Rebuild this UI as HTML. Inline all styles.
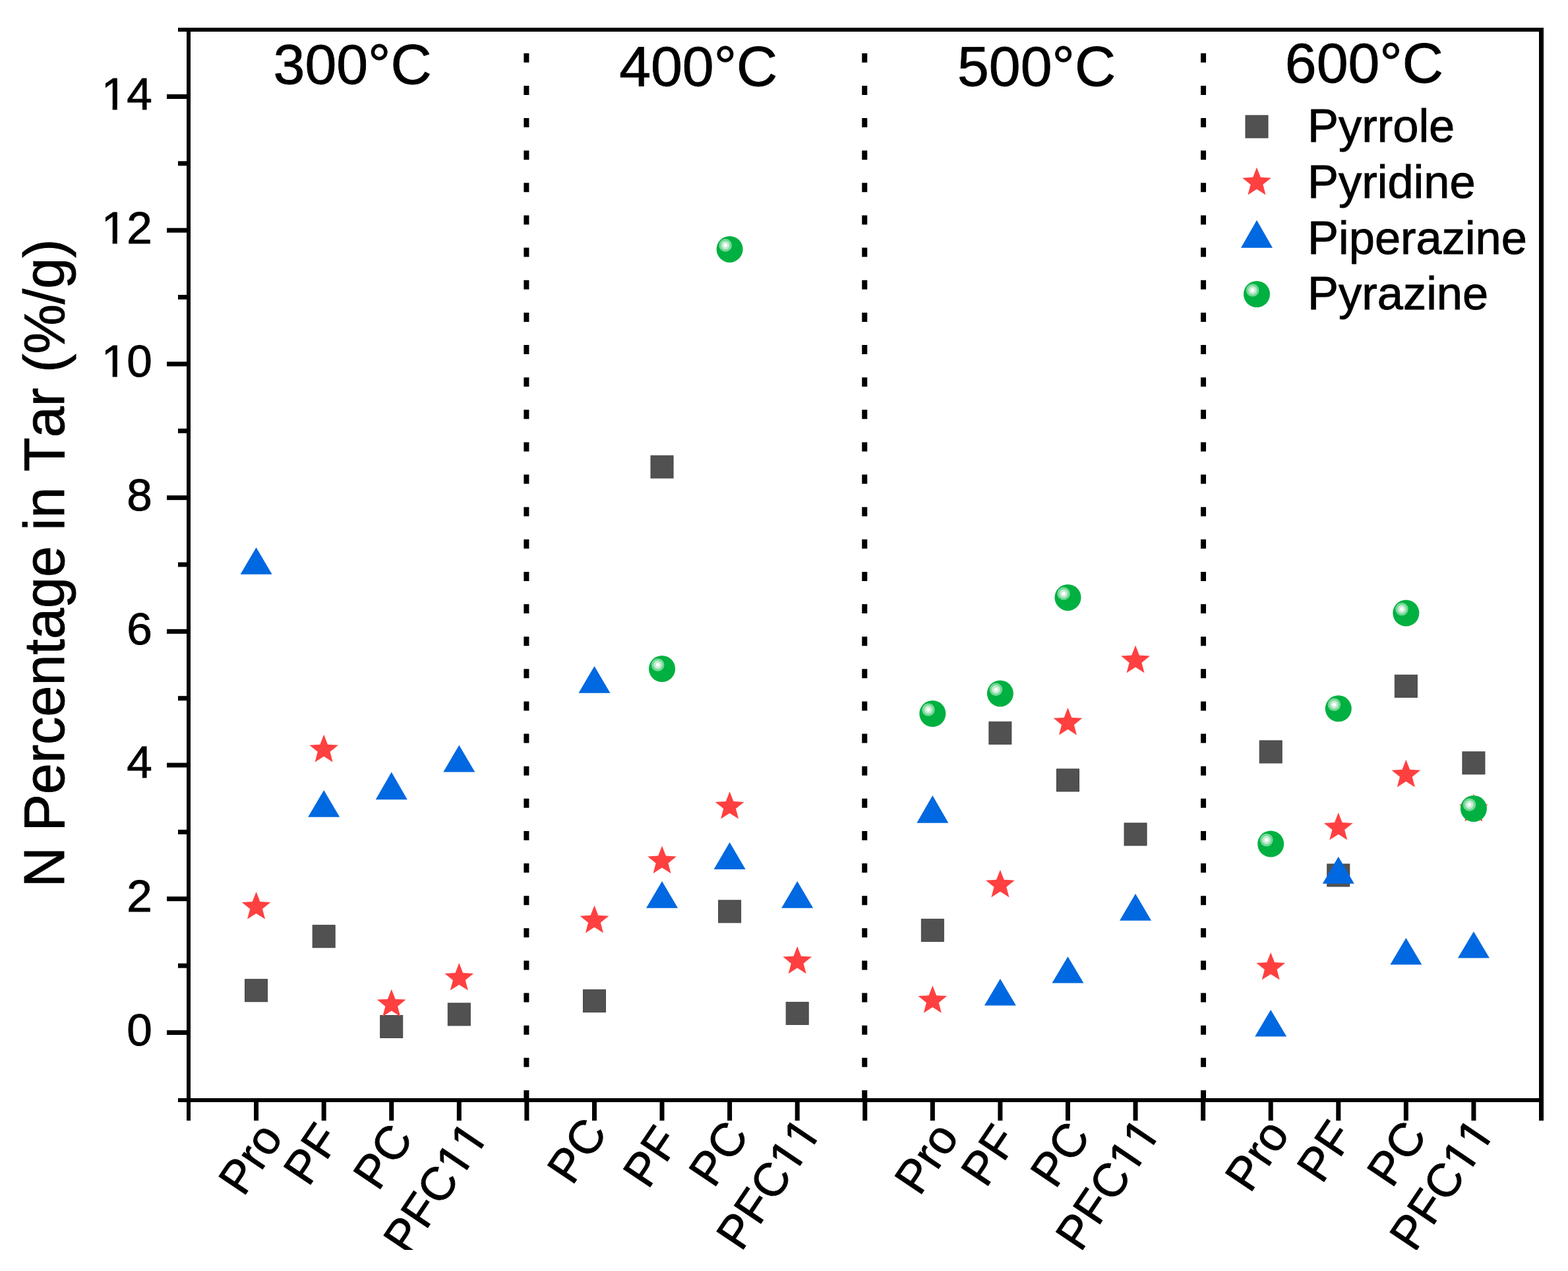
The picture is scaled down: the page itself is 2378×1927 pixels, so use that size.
<!DOCTYPE html>
<html><head><meta charset="utf-8"><title>N Percentage in Tar</title>
<style>html,body{margin:0;padding:0;background:#fff;overflow:hidden;} svg{display:block;} text{font-kerning:none;stroke:#000;stroke-width:0.9px;}</style>
</head><body>
<svg width="2378" height="1927" viewBox="0 0 2378 1927" font-family="'Liberation Sans', Arial, sans-serif" fill="#000"><defs><clipPath id="clipb"><rect x="0" y="0" width="2378" height="1895"/></clipPath><clipPath id="c1"><path d="M-5000,-5000H5000V5000H-5000ZM-74.04,2.37L-60.10,2.37L-60.10,-6.26L-74.04,-6.26ZM-53.09,2.37L-39.52,2.37L-39.52,-6.26L-53.09,-6.26Z" clip-rule="evenodd"/></clipPath><clipPath id="c2"><path d="M-5000,-5000H5000V5000H-5000ZM-74.04,2.37L-60.10,2.37L-60.10,-6.26L-74.04,-6.26ZM-53.09,2.37L-39.52,2.37L-39.52,-6.26L-53.09,-6.26Z" clip-rule="evenodd"/></clipPath><clipPath id="c3"><path d="M-5000,-5000H5000V5000H-5000ZM-74.04,2.37L-60.10,2.37L-60.10,-6.26L-74.04,-6.26ZM-53.09,2.37L-39.52,2.37L-39.52,-6.26L-53.09,-6.26Z" clip-rule="evenodd"/></clipPath><clipPath id="c4"><path d="M-5000,-5000H5000V5000H-5000ZM144.30,2.41L158.51,2.41L158.51,-6.38L144.30,-6.38ZM165.64,2.41L179.46,2.41L179.46,-6.38L165.64,-6.38ZM183.57,2.41L197.77,2.41L197.77,-6.38L183.57,-6.38ZM204.91,2.41L218.73,2.41L218.73,-6.38L204.91,-6.38Z" clip-rule="evenodd"/></clipPath><clipPath id="c5"><path d="M-5000,-5000H5000V5000H-5000ZM144.30,2.41L158.51,2.41L158.51,-6.38L144.30,-6.38ZM165.64,2.41L179.46,2.41L179.46,-6.38L165.64,-6.38ZM183.57,2.41L197.77,2.41L197.77,-6.38L183.57,-6.38ZM204.91,2.41L218.73,2.41L218.73,-6.38L204.91,-6.38Z" clip-rule="evenodd"/></clipPath><clipPath id="c6"><path d="M-5000,-5000H5000V5000H-5000ZM144.30,2.41L158.51,2.41L158.51,-6.38L144.30,-6.38ZM165.64,2.41L179.46,2.41L179.46,-6.38L165.64,-6.38ZM183.57,2.41L197.77,2.41L197.77,-6.38L183.57,-6.38ZM204.91,2.41L218.73,2.41L218.73,-6.38L204.91,-6.38Z" clip-rule="evenodd"/></clipPath><clipPath id="c7"><path d="M-5000,-5000H5000V5000H-5000ZM144.30,2.41L158.51,2.41L158.51,-6.38L144.30,-6.38ZM165.64,2.41L179.46,2.41L179.46,-6.38L165.64,-6.38ZM183.57,2.41L197.77,2.41L197.77,-6.38L183.57,-6.38ZM204.91,2.41L218.73,2.41L218.73,-6.38L204.91,-6.38Z" clip-rule="evenodd"/></clipPath></defs><rect x="283" y="42" width="6" height="1657" fill="#000"/>
<rect x="2334" y="42" width="7" height="1657" fill="#000"/>
<rect x="270" y="42" width="2071" height="6" fill="#000"/>
<rect x="270" y="1665" width="2071" height="6" fill="#000"/>
<rect x="253" y="1562.00" width="30" height="7" fill="#000"/>
<rect x="270" y="1460.64" width="13" height="7" fill="#000"/>
<rect x="253" y="1359.28" width="30" height="7" fill="#000"/>
<rect x="270" y="1257.92" width="13" height="7" fill="#000"/>
<rect x="253" y="1156.56" width="30" height="7" fill="#000"/>
<rect x="270" y="1055.20" width="13" height="7" fill="#000"/>
<rect x="253" y="953.84" width="30" height="7" fill="#000"/>
<rect x="270" y="852.48" width="13" height="7" fill="#000"/>
<rect x="253" y="751.12" width="30" height="7" fill="#000"/>
<rect x="270" y="649.76" width="13" height="7" fill="#000"/>
<rect x="253" y="548.40" width="30" height="7" fill="#000"/>
<rect x="270" y="447.04" width="13" height="7" fill="#000"/>
<rect x="253" y="345.68" width="30" height="7" fill="#000"/>
<rect x="270" y="244.32" width="13" height="7" fill="#000"/>
<rect x="253" y="142.96" width="30" height="7" fill="#000"/>
<rect x="385.07" y="1671" width="7" height="28" fill="#000"/>
<rect x="487.65" y="1671" width="7" height="28" fill="#000"/>
<rect x="590.23" y="1671" width="7" height="28" fill="#000"/>
<rect x="692.80" y="1671" width="7" height="28" fill="#000"/>
<rect x="795.38" y="1671" width="7" height="28" fill="#000"/>
<rect x="897.95" y="1671" width="7" height="28" fill="#000"/>
<rect x="1000.52" y="1671" width="7" height="28" fill="#000"/>
<rect x="1103.10" y="1671" width="7" height="28" fill="#000"/>
<rect x="1205.68" y="1671" width="7" height="28" fill="#000"/>
<rect x="1308.25" y="1671" width="7" height="28" fill="#000"/>
<rect x="1410.83" y="1671" width="7" height="28" fill="#000"/>
<rect x="1513.40" y="1671" width="7" height="28" fill="#000"/>
<rect x="1615.98" y="1671" width="7" height="28" fill="#000"/>
<rect x="1718.55" y="1671" width="7" height="28" fill="#000"/>
<rect x="1821.12" y="1671" width="7" height="28" fill="#000"/>
<rect x="1923.70" y="1671" width="7" height="28" fill="#000"/>
<rect x="2026.28" y="1671" width="7" height="28" fill="#000"/>
<rect x="2128.85" y="1671" width="7" height="28" fill="#000"/>
<rect x="2231.43" y="1671" width="7" height="28" fill="#000"/>
<line x1="798.38" y1="1667" x2="798.38" y2="45" stroke="#000" stroke-width="8" stroke-dasharray="14 35.13"/>
<line x1="1311.25" y1="1667" x2="1311.25" y2="45" stroke="#000" stroke-width="8" stroke-dasharray="14 35.13"/>
<line x1="1825.03" y1="1667" x2="1825.03" y2="45" stroke="#000" stroke-width="8" stroke-dasharray="14 35.13"/>
<text transform="translate(230.80,1584.90)" font-size="69.3" x="-38.54" y="0">0</text>
<text transform="translate(230.80,1382.18)" font-size="69.3" x="-38.54" y="0">2</text>
<text transform="translate(230.80,1179.46)" font-size="69.3" x="-38.54" y="0">4</text>
<text transform="translate(230.80,976.74)" font-size="69.3" x="-38.54" y="0">6</text>
<text transform="translate(230.80,774.02)" font-size="69.3" x="-38.54" y="0">8</text>
<text transform="translate(230.80,571.30)" font-size="69.3" x="-77.08 -38.54" y="0" clip-path="url(#c1)">10</text>
<text transform="translate(230.80,368.58)" font-size="69.3" x="-77.08 -38.54" y="0" clip-path="url(#c2)">12</text>
<text transform="translate(230.80,165.86)" font-size="69.3" x="-77.08 -38.54" y="0" clip-path="url(#c3)">14</text>
<text transform="translate(97.30,1345.20) rotate(-90.000) scale(1.0000,1.0400)" font-size="84.6" x="0.00 61.10 84.60 141.03 188.08 216.25 258.55 305.60 352.65 376.16 423.21 470.26 517.31 540.81 559.61 606.66 630.16 681.84 728.89 757.06 780.57 808.74 883.96 907.47 954.52" y="0">N Percentage in Tar (%/g)</text>
<text transform="translate(414.60,127.00)" font-size="86" x="0.00 47.83 95.66 143.49 177.88" y="0">300°C</text>
<text transform="translate(939.20,129.70)" font-size="86" x="0.00 47.83 95.66 143.49 177.88" y="0">400°C</text>
<text transform="translate(1452.00,129.80)" font-size="86" x="0.00 47.83 95.66 143.49 177.88" y="0">500°C</text>
<text transform="translate(1948.80,125.00)" font-size="86" x="0.00 47.83 95.66 143.49 177.88" y="0">600°C</text>
<g clip-path="url(#clipb)">
<text transform="translate(369.20,1815.75) rotate(-56.000) scale(1.0000,1.0100)" font-size="70.6" x="0.00 47.09 70.60" y="0">Pro</text>
<text transform="translate(467.70,1800.65) rotate(-56.000) scale(1.0000,1.0100)" font-size="70.6" x="0.00 47.09" y="0">PF</text>
<text transform="translate(573.50,1807.50) rotate(-56.000) scale(1.0000,1.0100)" font-size="70.6" x="0.00 47.09" y="0">PC</text>
<text transform="translate(619.25,1905.30) rotate(-56.000) scale(1.0000,1.0100)" font-size="70.6" x="0.00 47.09 90.21 141.20 180.46" y="0" clip-path="url(#c4)">PFC11</text>
<text transform="translate(867.65,1798.80) rotate(-56.000) scale(1.0000,1.0100)" font-size="70.6" x="0.00 47.09" y="0">PC</text>
<text transform="translate(982.65,1804.60) rotate(-56.000) scale(1.0000,1.0100)" font-size="70.6" x="0.00 47.09" y="0">PF</text>
<text transform="translate(1082.45,1803.00) rotate(-56.000) scale(1.0000,1.0100)" font-size="70.6" x="0.00 47.09" y="0">PC</text>
<text transform="translate(1124.35,1899.00) rotate(-56.000) scale(1.0000,1.0100)" font-size="70.6" x="0.00 47.09 90.21 141.20 180.46" y="0" clip-path="url(#c5)">PFC11</text>
<text transform="translate(1394.45,1814.95) rotate(-56.000) scale(1.0000,1.0100)" font-size="70.6" x="0.00 47.09 70.60" y="0">Pro</text>
<text transform="translate(1495.30,1802.50) rotate(-56.000) scale(1.0000,1.0100)" font-size="70.6" x="0.00 47.09" y="0">PF</text>
<text transform="translate(1600.50,1804.25) rotate(-56.000) scale(1.0000,1.0100)" font-size="70.6" x="0.00 47.09" y="0">PC</text>
<text transform="translate(1638.75,1899.85) rotate(-56.000) scale(1.0000,1.0100)" font-size="70.6" x="0.00 47.09 90.21 141.20 180.46" y="0" clip-path="url(#c6)">PFC11</text>
<text transform="translate(1895.85,1810.45) rotate(-56.000) scale(1.0000,1.0100)" font-size="70.6" x="0.00 47.09 70.60" y="0">Pro</text>
<text transform="translate(2004.75,1796.50) rotate(-56.000) scale(1.0000,1.0100)" font-size="70.6" x="0.00 47.09" y="0">PF</text>
<text transform="translate(2111.05,1803.00) rotate(-56.000) scale(1.0000,1.0100)" font-size="70.6" x="0.00 47.09" y="0">PC</text>
<text transform="translate(2145.35,1900.15) rotate(-56.000) scale(1.0000,1.0100)" font-size="70.6" x="0.00 47.09 90.21 141.20 180.46" y="0" clip-path="url(#c7)">PFC11</text>
</g>
<rect x="371.57" y="1484.70" width="34" height="34" fill="#515151" stroke="#444" stroke-width="1"/>
<rect x="474.15" y="1402.70" width="34" height="34" fill="#515151" stroke="#444" stroke-width="1"/>
<rect x="576.73" y="1539.50" width="34" height="34" fill="#515151" stroke="#444" stroke-width="1"/>
<rect x="679.30" y="1520.90" width="34" height="34" fill="#515151" stroke="#444" stroke-width="1"/>
<rect x="884.45" y="1500.60" width="34" height="34" fill="#515151" stroke="#444" stroke-width="1"/>
<rect x="987.02" y="690.90" width="34" height="34" fill="#515151" stroke="#444" stroke-width="1"/>
<rect x="1089.60" y="1364.90" width="34" height="34" fill="#515151" stroke="#444" stroke-width="1"/>
<rect x="1192.18" y="1519.40" width="34" height="34" fill="#515151" stroke="#444" stroke-width="1"/>
<rect x="1397.33" y="1393.40" width="34" height="34" fill="#515151" stroke="#444" stroke-width="1"/>
<rect x="1499.90" y="1094.30" width="34" height="34" fill="#515151" stroke="#444" stroke-width="1"/>
<rect x="1602.48" y="1165.90" width="34" height="34" fill="#515151" stroke="#444" stroke-width="1"/>
<rect x="1705.05" y="1247.90" width="34" height="34" fill="#515151" stroke="#444" stroke-width="1"/>
<rect x="1910.20" y="1122.90" width="34" height="34" fill="#515151" stroke="#444" stroke-width="1"/>
<rect x="2012.78" y="1310.00" width="34" height="34" fill="#515151" stroke="#444" stroke-width="1"/>
<rect x="2115.35" y="1023.30" width="34" height="34" fill="#515151" stroke="#444" stroke-width="1"/>
<rect x="2217.93" y="1139.80" width="34" height="34" fill="#515151" stroke="#444" stroke-width="1"/>
<polygon points="388.57,1352.00 394.39,1367.00 410.45,1367.89 397.98,1378.06 402.09,1393.61 388.57,1384.89 375.06,1393.61 379.17,1378.06 366.70,1367.89 382.76,1367.00" fill="#FF4040"/>
<polygon points="491.15,1113.80 496.96,1128.80 513.02,1129.69 500.56,1139.86 504.67,1155.41 491.15,1146.69 477.63,1155.41 481.74,1139.86 469.28,1129.69 485.34,1128.80" fill="#FF4040"/>
<polygon points="593.73,1499.70 599.54,1514.70 615.60,1515.59 603.13,1525.76 607.24,1541.31 593.73,1532.59 580.21,1541.31 584.32,1525.76 571.85,1515.59 587.91,1514.70" fill="#FF4040"/>
<polygon points="696.30,1460.00 702.11,1475.00 718.17,1475.89 705.71,1486.06 709.82,1501.61 696.30,1492.89 682.78,1501.61 686.89,1486.06 674.43,1475.89 690.49,1475.00" fill="#FF4040"/>
<polygon points="901.45,1372.80 907.26,1387.80 923.32,1388.69 910.86,1398.86 914.97,1414.41 901.45,1405.69 887.93,1414.41 892.04,1398.86 879.58,1388.69 895.64,1387.80" fill="#FF4040"/>
<polygon points="1004.02,1282.60 1009.84,1297.60 1025.90,1298.49 1013.43,1308.66 1017.54,1324.21 1004.02,1315.49 990.51,1324.21 994.62,1308.66 982.15,1298.49 998.21,1297.60" fill="#FF4040"/>
<polygon points="1106.60,1200.00 1112.41,1215.00 1128.47,1215.89 1116.01,1226.06 1120.12,1241.61 1106.60,1232.89 1093.08,1241.61 1097.19,1226.06 1084.73,1215.89 1100.79,1215.00" fill="#FF4040"/>
<polygon points="1209.18,1434.70 1214.99,1449.70 1231.05,1450.59 1218.58,1460.76 1222.69,1476.31 1209.18,1467.59 1195.66,1476.31 1199.77,1460.76 1187.30,1450.59 1203.36,1449.70" fill="#FF4040"/>
<polygon points="1414.33,1494.20 1420.14,1509.20 1436.20,1510.09 1423.73,1520.26 1427.84,1535.81 1414.33,1527.09 1400.81,1535.81 1404.92,1520.26 1392.45,1510.09 1408.51,1509.20" fill="#FF4040"/>
<polygon points="1516.90,1318.80 1522.71,1333.80 1538.77,1334.69 1526.31,1344.86 1530.42,1360.41 1516.90,1351.69 1503.38,1360.41 1507.49,1344.86 1495.03,1334.69 1511.09,1333.80" fill="#FF4040"/>
<polygon points="1619.48,1072.90 1625.29,1087.90 1641.35,1088.79 1628.88,1098.96 1632.99,1114.51 1619.48,1105.79 1605.96,1114.51 1610.07,1098.96 1597.60,1088.79 1613.66,1087.90" fill="#FF4040"/>
<polygon points="1722.05,978.60 1727.86,993.60 1743.92,994.49 1731.46,1004.66 1735.57,1020.21 1722.05,1011.49 1708.53,1020.21 1712.64,1004.66 1700.18,994.49 1716.24,993.60" fill="#FF4040"/>
<polygon points="1927.20,1444.00 1933.01,1459.00 1949.07,1459.89 1936.61,1470.06 1940.72,1485.61 1927.20,1476.89 1913.68,1485.61 1917.79,1470.06 1905.33,1459.89 1921.39,1459.00" fill="#FF4040"/>
<polygon points="2029.78,1232.00 2035.59,1247.00 2051.65,1247.89 2039.18,1258.06 2043.29,1273.61 2029.78,1264.89 2016.26,1273.61 2020.37,1258.06 2007.90,1247.89 2023.96,1247.00" fill="#FF4040"/>
<polygon points="2132.35,1151.80 2138.16,1166.80 2154.22,1167.69 2141.76,1177.86 2145.87,1193.41 2132.35,1184.69 2118.83,1193.41 2122.94,1177.86 2110.48,1167.69 2126.54,1166.80" fill="#FF4040"/>
<polygon points="2234.93,1203.80 2240.74,1218.80 2256.80,1219.69 2244.33,1229.86 2248.44,1245.41 2234.93,1236.69 2221.41,1245.41 2225.52,1229.86 2213.05,1219.69 2229.11,1218.80" fill="#FF4040"/>
<polygon points="388.57,830.00 412.57,870.80 364.57,870.80" fill="#0068E0"/>
<polygon points="491.15,1197.90 515.15,1238.80 467.15,1238.80" fill="#0068E0"/>
<polygon points="593.73,1170.60 617.73,1212.30 569.73,1212.30" fill="#0068E0"/>
<polygon points="696.30,1129.70 720.30,1170.60 672.30,1170.60" fill="#0068E0"/>
<polygon points="901.45,1009.90 925.45,1050.80 877.45,1050.80" fill="#0068E0"/>
<polygon points="1004.02,1335.90 1028.03,1376.70 980.02,1376.70" fill="#0068E0"/>
<polygon points="1106.60,1276.90 1130.60,1318.00 1082.60,1318.00" fill="#0068E0"/>
<polygon points="1209.18,1335.90 1233.18,1376.70 1185.18,1376.70" fill="#0068E0"/>
<polygon points="1414.33,1206.00 1438.33,1247.80 1390.33,1247.80" fill="#0068E0"/>
<polygon points="1516.90,1483.90 1540.90,1524.60 1492.90,1524.60" fill="#0068E0"/>
<polygon points="1619.48,1450.30 1643.48,1490.60 1595.48,1490.60" fill="#0068E0"/>
<polygon points="1722.05,1355.00 1746.05,1395.80 1698.05,1395.80" fill="#0068E0"/>
<polygon points="1927.20,1530.90 1951.20,1571.40 1903.20,1571.40" fill="#0068E0"/>
<polygon points="2029.78,1298.80 2053.78,1339.80 2005.78,1339.80" fill="#0068E0"/>
<polygon points="2132.35,1421.90 2156.35,1462.60 2108.35,1462.60" fill="#0068E0"/>
<polygon points="2234.93,1412.20 2258.93,1452.50 2210.93,1452.50" fill="#0068E0"/>
<g><circle cx="1004.02" cy="1014.00" r="20" fill="#00B040"/><circle cx="997.62" cy="1008.00" r="9.8" fill="#72D995"/><circle cx="997.62" cy="1008.00" r="6.4" fill="#C4EAD0"/><circle cx="997.62" cy="1008.00" r="2.9" fill="#fff"/></g>
<g><circle cx="1106.60" cy="377.90" r="20" fill="#00B040"/><circle cx="1100.20" cy="371.90" r="9.8" fill="#72D995"/><circle cx="1100.20" cy="371.90" r="6.4" fill="#C4EAD0"/><circle cx="1100.20" cy="371.90" r="2.9" fill="#fff"/></g>
<g><circle cx="1414.33" cy="1082.00" r="20" fill="#00B040"/><circle cx="1407.92" cy="1076.00" r="9.8" fill="#72D995"/><circle cx="1407.92" cy="1076.00" r="6.4" fill="#C4EAD0"/><circle cx="1407.92" cy="1076.00" r="2.9" fill="#fff"/></g>
<g><circle cx="1516.90" cy="1051.40" r="20" fill="#00B040"/><circle cx="1510.50" cy="1045.40" r="9.8" fill="#72D995"/><circle cx="1510.50" cy="1045.40" r="6.4" fill="#C4EAD0"/><circle cx="1510.50" cy="1045.40" r="2.9" fill="#fff"/></g>
<g><circle cx="1619.48" cy="905.90" r="20" fill="#00B040"/><circle cx="1613.08" cy="899.90" r="9.8" fill="#72D995"/><circle cx="1613.08" cy="899.90" r="6.4" fill="#C4EAD0"/><circle cx="1613.08" cy="899.90" r="2.9" fill="#fff"/></g>
<g><circle cx="1927.20" cy="1279.50" r="20" fill="#00B040"/><circle cx="1920.80" cy="1273.50" r="9.8" fill="#72D995"/><circle cx="1920.80" cy="1273.50" r="6.4" fill="#C4EAD0"/><circle cx="1920.80" cy="1273.50" r="2.9" fill="#fff"/></g>
<g><circle cx="2029.78" cy="1074.30" r="20" fill="#00B040"/><circle cx="2023.38" cy="1068.30" r="9.8" fill="#72D995"/><circle cx="2023.38" cy="1068.30" r="6.4" fill="#C4EAD0"/><circle cx="2023.38" cy="1068.30" r="2.9" fill="#fff"/></g>
<g><circle cx="2132.35" cy="929.50" r="20" fill="#00B040"/><circle cx="2125.95" cy="923.50" r="9.8" fill="#72D995"/><circle cx="2125.95" cy="923.50" r="6.4" fill="#C4EAD0"/><circle cx="2125.95" cy="923.50" r="2.9" fill="#fff"/></g>
<g><circle cx="2234.93" cy="1226.00" r="20" fill="#00B040"/><circle cx="2228.53" cy="1220.00" r="9.8" fill="#72D995"/><circle cx="2228.53" cy="1220.00" r="6.4" fill="#C4EAD0"/><circle cx="2228.53" cy="1220.00" r="2.9" fill="#fff"/></g>
<rect x="1889.00" y="175.00" width="34" height="34" fill="#515151" stroke="#444" stroke-width="1"/>
<polygon points="1906.00,253.80 1911.81,268.80 1927.87,269.69 1915.41,279.86 1919.52,295.41 1906.00,286.69 1892.48,295.41 1896.59,279.86 1884.13,269.69 1900.19,268.80" fill="#FF4040"/>
<polygon points="1906.00,333.80 1930.00,375.70 1882.00,375.70" fill="#0068E0"/>
<g><circle cx="1906.00" cy="446.00" r="20" fill="#00B040"/><circle cx="1899.60" cy="440.00" r="9.8" fill="#72D995"/><circle cx="1899.60" cy="440.00" r="6.4" fill="#C4EAD0"/><circle cx="1899.60" cy="440.00" r="2.9" fill="#fff"/></g>
<text transform="translate(1983.10,214.90)" font-size="70.45" x="0.00 46.99 82.21 105.67 129.14 168.32 183.97" y="0">Pyrrole</text>
<text transform="translate(1983.10,300.20)" font-size="70.45" x="0.00 46.99 82.21 105.67 121.33 160.51 176.16 215.34" y="0">Pyridine</text>
<text transform="translate(1983.10,385.40)" font-size="70.45" x="0.00 46.99 62.64 101.82 141.00 164.46 203.64 238.87 254.52 293.70" y="0">Piperazine</text>
<text transform="translate(1983.10,469.40)" font-size="70.45" x="0.00 46.99 82.21 105.67 144.86 180.08 195.73 234.91" y="0">Pyrazine</text></svg>
</body></html>
